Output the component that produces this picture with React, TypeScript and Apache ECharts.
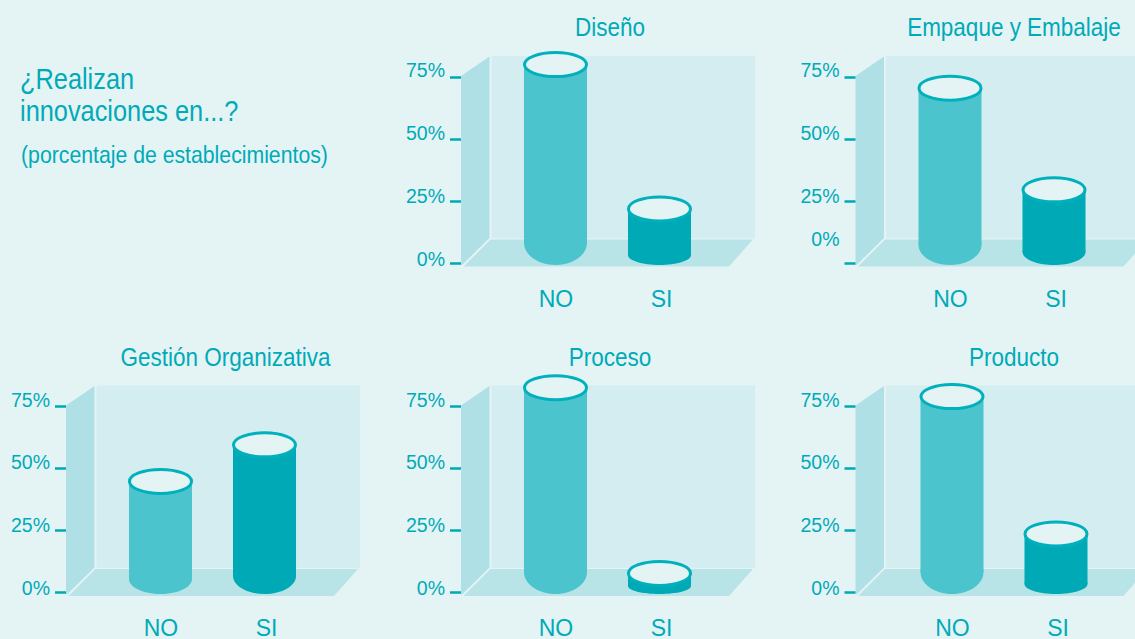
import React, { useEffect, useRef } from "react";
import * as echarts from "echarts";

const categories = ["NO", "SI"];
const tickValues = [0, 25, 50, 75];
const panelTitles = ["Diseño", "Empaque y Embalaje", "Gestión Organizativa", "Proceso", "Producto"];
const noValues = [80, 70.5, 44.7, 82.6, 79];
const siValues = [21.8, 29.5, 59.5, 7.5, 23.5];

const headingLines = ["¿Realizan", "innovaciones en...?"];
const headingNote = "(porcentaje de establecimientos)";

// layout: axis x, zero y, first category centre, title centre x, title y
const panelLayout = [
  { ax: 461, zero: 263, c0: 556, tx: 610, ty: 27, raised: false, rNo: 22, rSi: 10 },
  { ax: 855.5, zero: 263, c0: 950.5, tx: 1014, ty: 27, raised: true, rNo: 20, rSi: 13 },
  { ax: 66, zero: 592.5, c0: 161, tx: 225.5, ty: 357, raised: false, rNo: 15, rSi: 18 },
  { ax: 461, zero: 592.5, c0: 556, tx: 610, ty: 357, raised: false, rNo: 22, rSi: 8 },
  { ax: 855.5, zero: 592.5, c0: 952.5, tx: 1014, ty: 357, raised: false, rNo: 22, rSi: 10 },
];

const BG = "#E4F4F5";
const TEXT = "#00AAB8";
const NO_COLOR = "#4CC4CE";
const SI_COLOR = "#00A9B6";
const RIM = "#00B0BC";
const FONT = '"Liberation Sans", Arial, sans-serif';
const STEP = 104;

const tickRich = (pad: number) => ({ color: TEXT, fontFamily: FONT, fontSize: 19.5, padding: [0, 0, pad, 0] });

function makeOption() {
  const grids: any[] = [];
  const xAxes: any[] = [];
  const yAxes: any[] = [];
  const series: any[] = [];
  const graphics: any[] = [];

  panelTitles.forEach((title, i) => {
    const p = panelLayout[i];
    const left = p.c0 - STEP / 2;
    grids.push({ left, top: p.zero - 186, width: STEP * 2, height: 186 });
    xAxes.push({
      gridIndex: i,
      type: "category",
      data: categories,
      axisLine: { show: false },
      axisTick: { show: false },
      axisLabel: {
        color: TEXT,
        fontFamily: FONT,
        fontSize: 23,
        margin: 24,
        formatter: (v: string) => (v === "SI" ? `{s|${v}}` : v),
        rich: { s: { color: TEXT, fontFamily: FONT, fontSize: 23, padding: [0, 0, 0, 3] } },
      },
    });
    yAxes.push({
      gridIndex: i,
      type: "value",
      min: tickValues[0],
      max: tickValues[tickValues.length - 1],
      interval: 25,
      offset: left - p.ax,
      splitLine: { show: false },
      axisLine: { show: false },
      axisTick: { show: true, length: 11, lineStyle: { color: SI_COLOR, width: 2.5 } },
      axisLabel: {
        color: TEXT,
        fontFamily: FONT,
        fontSize: 19.5,
        margin: 16,
        formatter: (v: number) => {
          const key = v === 75 ? "a" : v === 50 ? "b" : v === 25 ? "c" : p.raised ? "z" : "d";
          return `{${key}|${v}%}`;
        },
        rich: { a: tickRich(14), b: tickRich(12), c: tickRich(10), d: tickRich(8), z: tickRich(48) },
      },
    });
    const rs = [p.rNo, p.rSi];
    series.push({
      type: "custom",
      xAxisIndex: i,
      yAxisIndex: i,
      encode: { x: 0, y: 1 },
      data: [
        [0, noValues[i]],
        [1, siValues[i]],
      ],
      renderItem: (_: any, api: any) => {
        const cat = api.value(0);
        const top = api.coord([cat, api.value(1)]);
        const base = api.coord([cat, 0]);
        const w = api.size([1, 0])[0] * 0.606;
        const rx = w / 2;
        const color = cat === 0 ? NO_COLOR : SI_COLOR;
        const bottom = base[1] + 2;
        const r = rs[cat];
        const cx = top[0] - 0.5;
        return {
          type: "group",
          children: [
            { type: "ellipse", shape: { cx, cy: bottom - r, rx, ry: r }, style: { fill: color } },
            { type: "rect", shape: { x: cx - rx, y: top[1], width: w, height: bottom - r - top[1] }, style: { fill: color } },
            { type: "ellipse", shape: { cx, cy: top[1], rx: rx - 0.5, ry: 12 }, style: { fill: BG, stroke: RIM, lineWidth: 3 } },
          ],
        };
      },
    });

    const a = p.ax;
    const z = p.zero;
    graphics.push(
      { type: "polygon", silent: true, shape: { points: [[a + 30.5, z - 207], [a + 294, z - 207], [a + 294, z - 24.7], [a + 30.5, z - 24.7]] }, style: { fill: "#D3EDF1" } },
      { type: "polygon", silent: true, shape: { points: [[a, z - 187], [a + 28.5, z - 206.5], [a + 28.5, z - 25], [a + 1, z + 2], [a, z + 2]] }, style: { fill: "#AFE0E5" } },
      { type: "polygon", silent: true, shape: { points: [[a + 2.5, z + 3.5], [a + 29.5, z - 23.5], [a + 292, z - 23.5], [a + 268, z + 3.5]] }, style: { fill: "#B9E4E7" } },
      { type: "text", x: p.tx, y: p.ty, scaleX: 0.9, style: { text: title, fill: TEXT, font: `25px ${FONT}`, align: "center", verticalAlign: "middle" } }
    );
  });

  graphics.push(
    { type: "text", x: 20, y: 78.5, scaleX: 0.845, style: { text: headingLines[0], fill: TEXT, font: `30px ${FONT}`, align: "left", verticalAlign: "middle" } },
    { type: "text", x: 20, y: 111, scaleX: 0.845, style: { text: headingLines[1], fill: TEXT, font: `30px ${FONT}`, align: "left", verticalAlign: "middle" } },
    { type: "text", x: 21, y: 155, scaleX: 0.885, style: { text: headingNote, fill: TEXT, font: `24px ${FONT}`, align: "left", verticalAlign: "middle" } }
  );

  return {
    animation: false,
    backgroundColor: BG,
    grid: grids,
    xAxis: xAxes,
    yAxis: yAxes,
    series,
    graphic: { elements: graphics },
  };
}

export default function App() {
  const ref = useRef<HTMLDivElement>(null);
  useEffect(() => {
    const chart = echarts.init(ref.current!, undefined, { renderer: "svg" });
    chart.setOption(makeOption());
    return () => chart.dispose();
  }, []);
  return <div ref={ref} style={{ position: "fixed", left: 0, top: 0, width: 1135, height: 639 }} />;
}
